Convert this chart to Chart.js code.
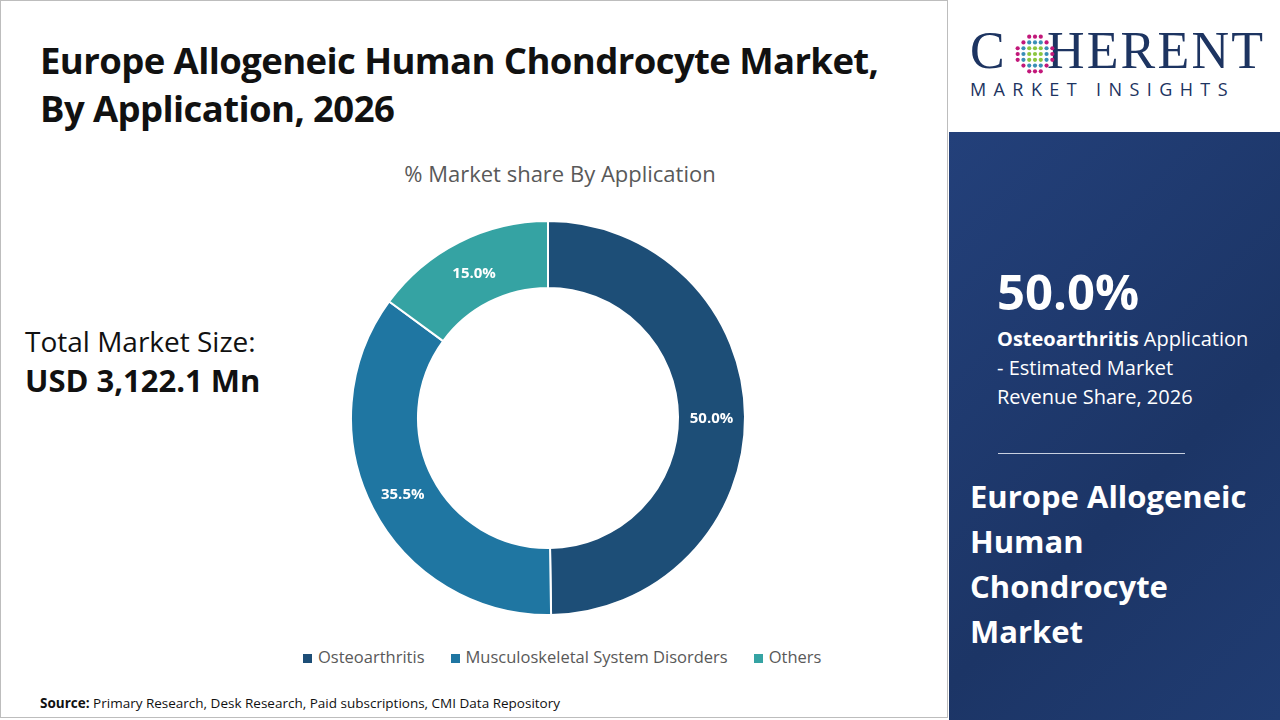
<!DOCTYPE html>
<html><head><meta charset="utf-8">
<script src="https://cdn.jsdelivr.net/npm/chart.js@4"></script>
<style>
body{margin:0;width:1280px;height:720px;position:relative;font-family:"Open Sans",sans-serif;background:#fff;overflow:hidden}
.abs{position:absolute}
#frame{left:0;top:0;width:948px;height:718px;border:1px solid #bdbdbd;box-sizing:border-box}
#title{left:40px;top:36px;font-size:36.5px;font-weight:bold;color:#111;line-height:48px;letter-spacing:-0.6px;white-space:nowrap}
#sub{left:300px;width:520px;top:158px;text-align:center;font-size:22px;color:#595959}
#tm1{left:25px;top:322px;font-size:28px;color:#111}
#tm2{left:25px;top:359px;font-size:31px;font-weight:bold;color:#111}
#legend{left:290px;width:540px;top:645px;text-align:center;font-size:16.5px;color:#595959;white-space:nowrap}
#legend span{margin:0 13px}
#legend i{display:inline-block;width:9px;height:9px;margin-right:6px}
#src{left:40px;top:694px;font-size:13.5px;color:#111}
#panel{left:949px;top:132px;width:331px;height:588px;background:linear-gradient(135deg,#23407a,#1c3566 60%,#203c72)}
#logo1{left:970px;top:29px;font-family:"Liberation Serif",serif;font-size:52px;color:#1d3461;letter-spacing:2.2px;line-height:44px}
#logo2{left:970px;top:80px;font-size:18px;color:#1d3461;letter-spacing:7.4px;line-height:18px}
#pct{left:997px;top:266px;font-size:49px;font-weight:bold;color:#fff;line-height:50px}
#desc{left:997px;top:324px;font-size:20px;color:#fff;line-height:29px}
#line{left:998px;top:453px;width:187px;height:1px;background:#c8d0e0}
#big{left:970px;top:474px;font-size:31px;font-weight:bold;color:#fff;line-height:45px}
</style></head><body>
<div id="frame" class="abs"></div>
<div id="title" class="abs">Europe Allogeneic Human Chondrocyte Market,<br>By Application, 2026</div>
<div id="sub" class="abs">% Market share By Application</div>
<div id="tm1" class="abs">Total Market Size:</div>
<div id="tm2" class="abs">USD 3,122.1 Mn</div>
<div class="abs" style="left:348px;top:218px;width:400px;height:400px"><canvas id="c" width="400" height="400"></canvas></div>
<div id="legend" class="abs"></div>
<div id="src" class="abs"><b>Source:</b> Primary Research, Desk Research, Paid subscriptions, CMI Data Repository</div>
<div id="logo1" class="abs">C<span style="display:inline-block;width:40px"></span>HERENT</div>
<svg class="abs" style="left:1014px;top:33px" width="42" height="42" viewBox="0 0 40 40">
<g id="dots"></g></svg>
<div id="logo2" class="abs">MARKET INSIGHTS</div>
<div id="panel" class="abs"></div>
<div id="pct" class="abs">50.0%</div>
<div id="desc" class="abs"><b>Osteoarthritis</b> Application<br>- Estimated Market<br>Revenue Share, 2026</div>
<div id="line" class="abs"></div>
<div id="big" class="abs">Europe Allogeneic<br>Human<br>Chondrocyte<br>Market</div>
<script>
const categories=["Osteoarthritis","Musculoskeletal System Disorders","Others"];
const shares=[50.0,35.5,15.0];
const colors=["#1d4e77","#1f76a2","#35a3a3"];
(function(){let g=document.getElementById('dots'),s='';
for(let r=0;r<7;r++)for(let c=0;c<7;c++){let x=c*5.5+3.5,y=r*5.5+3.5,d=Math.hypot(x-20,y-20);if(d>19)continue;
let col=d<9?'#8cc63f':(d<14?'#3a8fb7':'#c2187a');s+=`<circle cx="${x}" cy="${y}" r="2" fill="${col}"/>`;}g.innerHTML=s;})();
document.getElementById('legend').innerHTML=categories.map((c,i)=>`<span><i style="background:${colors[i]}"></i>${c}</span>`).join('');
const labelPlugin={id:'lbl',afterDatasetsDraw(ch){const ctx=ch.ctx;const m=ch.getDatasetMeta(0);
ctx.save();ctx.fillStyle='#fff';ctx.font='bold 15px "Open Sans"';ctx.textAlign='center';ctx.textBaseline='middle';
m.data.forEach((a,i)=>{const p=a.tooltipPosition();ctx.fillText(shares[i].toFixed(1)+'%',p.x,p.y+2);});ctx.restore();}};
new Chart(document.getElementById('c'),{type:'doughnut',
data:{labels:categories,datasets:[{data:shares,backgroundColor:colors,borderColor:'#fff',borderWidth:2,radius:197}]},
options:{responsive:false,animation:false,cutout:'66%',plugins:{legend:{display:false},tooltip:{enabled:false}}},
plugins:[labelPlugin]});
</script></body></html>
